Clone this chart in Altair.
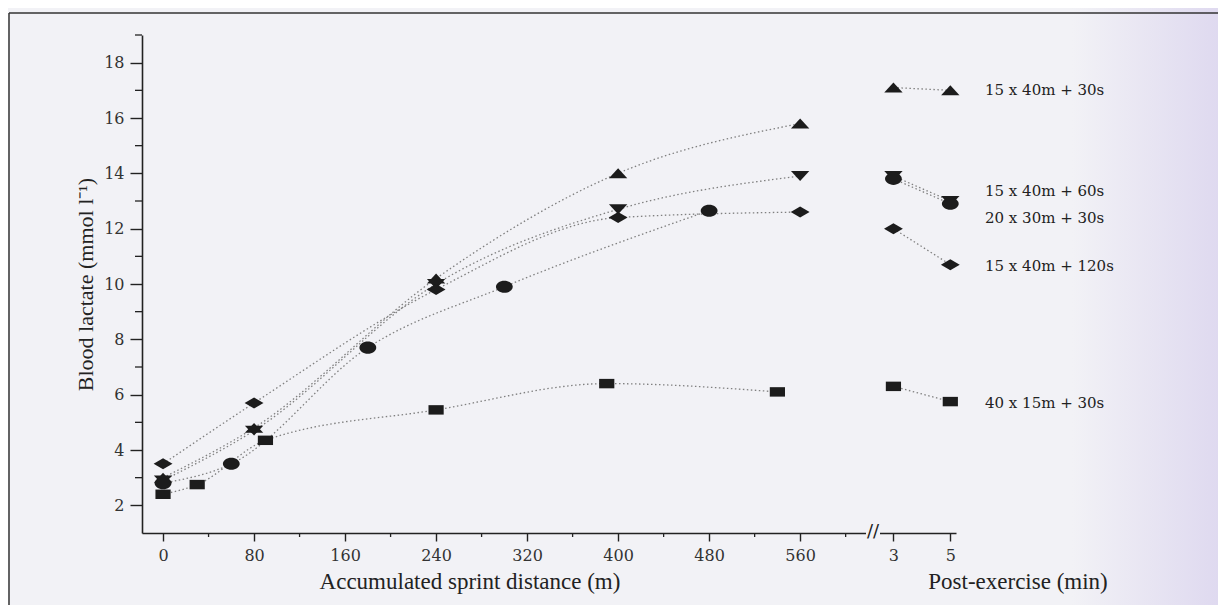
import altair as alt
import pandas as pd

# ---------------- data ----------------
series_names = ["15 x 40m + 30s", "15 x 40m + 60s", "20 x 30m + 30s",
                "15 x 40m + 120s", "40 x 15m + 30s"]

# accumulated sprint distance (m) and blood lactate (mmol/l) during exercise
dist_30s = [0, 80, 240, 400, 560]
lac_30s = [3.0, 4.8, 10.2, 14.0, 15.8]
dist_60s = [0, 80, 240, 400, 560]
lac_60s = [2.9, 4.7, 10.0, 12.7, 13.9]
dist_20x30 = [0, 60, 180, 300, 480]
lac_20x30 = [2.8, 3.5, 7.7, 9.9, 12.65]
dist_120s = [0, 80, 240, 400, 560]
lac_120s = [3.5, 5.7, 9.8, 12.4, 12.6]
dist_40x15 = [0, 30, 90, 240, 390, 540]
lac_40x15 = [2.4, 2.75, 4.35, 5.45, 6.4, 6.1]

# post-exercise (minutes) values
post_minutes = [3, 5]
post_30s = [17.1, 17.0]
post_60s = [13.9, 13.0]
post_20x30 = [13.8, 12.9]
post_120s = [12.0, 10.7]
post_40x15 = [6.3, 5.75]

label_lactate = [17.0, 13.35, 12.4, 10.65, 5.7]

y_major = [2, 4, 6, 8, 10, 12, 14, 16, 18]
y_minor = [3, 5, 7, 9, 11, 13, 15, 17, 19]
x_major = [0, 80, 160, 240, 320, 400, 480, 560]
x_minor = [40, 120, 200, 280, 360, 440, 520, 600]

# post-exercise minutes are placed after the axis break
BREAK_ORIGIN = 567
MIN_STEP = 25


def post_pos(m):
    return BREAK_ORIGIN + MIN_STEP * m


ex_sets = [(dist_30s, lac_30s), (dist_60s, lac_60s), (dist_20x30, lac_20x30),
           (dist_120s, lac_120s), (dist_40x15, lac_40x15)]
post_sets = [post_30s, post_60s, post_20x30, post_120s, post_40x15]

rows = []
for name, (dx, ly), py in zip(series_names, ex_sets, post_sets):
    for d, v in zip(dx, ly):
        rows.append({"series": name, "seg": name + "|ex", "x": d, "y": v})
    for m, v in zip(post_minutes, py):
        rows.append({"series": name, "seg": name + "|post", "x": post_pos(m), "y": v})
df = pd.DataFrame(rows)

labels_df = pd.DataFrame({"label": series_names, "y": label_lactate})
ymin_df = pd.DataFrame({"y": y_minor})
xmin_df = pd.DataFrame({"x": x_minor})

post_ticks = [post_pos(m) for m in post_minutes]
label_expr = " : ".join(
    [f"datum.value == {p} ? '{m}'" for p, m in zip(post_ticks, post_minutes)]
) + " : datum.label"

# ---------------- styling ----------------
BG = "#f2f2f6"
INK = "#1c1c1c"
W, H = 814, 498

x_scale = alt.Scale(domain=[-18.5, 697], nice=False, zero=False)
y_scale = alt.Scale(domain=[1, 19], nice=False, zero=False)

x_axis = alt.Axis(values=x_major + post_ticks, labelExpr=label_expr, title=None,
                  grid=False, tickSize=8, labelPadding=6, domainColor="#222",
                  tickColor="#222", domainWidth=1.6, tickWidth=1.4,
                  labelFont="DejaVu Serif", labelFontSize=16, labelColor="#333")
y_axis = alt.Axis(values=y_major, title="Blood lactate (mmol l⁻¹)", grid=False,
                  tickSize=12, labelPadding=6, domainColor="#222", tickColor="#222",
                  domainWidth=1.6, tickWidth=1.4,
                  labelFont="DejaVu Serif", labelFontSize=16, labelColor="#333",
                  titleFont="Liberation Serif", titleFontSize=22,
                  titleFontWeight="normal", titleColor="#222", titlePadding=6)

X = alt.X("x:Q", scale=x_scale, axis=x_axis)
Y = alt.Y("y:Q", scale=y_scale, axis=y_axis)

shape_paths = [
    "M0,-0.95L1.75,0.95L-1.75,0.95Z",
    "M-1.75,-0.95L1.75,-0.95L0,0.95Z",
    "M-1.6,0A1.6,1.15,0,1,0,1.6,0A1.6,1.15,0,1,0,-1.6,0Z",
    "M0,-1.05L1.8,0L0,1.05L-1.8,0Z",
    "M-1.45,-0.9L1.45,-0.9L1.45,0.9L-1.45,0.9Z",
]

# right-side lavender tint of the scan
tint = alt.Chart(pd.DataFrame({"k": [0]})).mark_rect(
    color=alt.Gradient(gradient="linear", x1=0, x2=1, y1=0, y2=0,
                       stops=[alt.GradientStop(color=BG, offset=0),
                              alt.GradientStop(color="#ddd7ef", offset=1)])
).encode(x=alt.value(930), x2=alt.value(1090), y=alt.value(-35), y2=alt.value(575))

frame_top = alt.Chart(pd.DataFrame({"k": [0]})).mark_rule(color="#333", strokeWidth=1.5).encode(
    x=alt.value(-133), x2=alt.value(1090), y=alt.value(-22))
frame_left = alt.Chart(pd.DataFrame({"k": [0]})).mark_rule(color="#333", strokeWidth=1.5).encode(
    x=alt.value(-133), y=alt.value(-22), y2=alt.value(575))

lines = alt.Chart(df).mark_line(
    interpolate="monotone", strokeDash=[1.5, 2.5], color="#808080", strokeWidth=1.3
).encode(x=X, y=Y, detail="seg:N")

points = alt.Chart(df).mark_point(filled=True, opacity=1, color=INK, size=110, strokeWidth=0).encode(
    x=X, y=Y,
    shape=alt.Shape("series:N", scale=alt.Scale(domain=series_names, range=shape_paths), legend=None),
)

y_minor_ticks = alt.Chart(ymin_df).mark_rule(color="#222", strokeWidth=1.3).encode(
    y=Y, x=alt.value(-7), x2=alt.value(0))
x_minor_ticks = alt.Chart(xmin_df).mark_rule(color="#222", strokeWidth=1.3).encode(
    x=X, y=alt.value(H), y2=alt.value(H + 4))

break_gap = alt.Chart(pd.DataFrame({"k": [0]})).mark_rect(color=BG).encode(
    x=alt.value(724), x2=alt.value(738), y=alt.value(H - 3), y2=alt.value(H + 3))
break_mark = alt.Chart(pd.DataFrame({"t": ["//"]})).mark_text(
    font="DejaVu Sans", fontSize=18, color="#222", align="center", baseline="middle"
).encode(text="t:N", x=alt.value(731), y=alt.value(H - 1))

series_labels = alt.Chart(labels_df).mark_text(
    font="DejaVu Serif", fontSize=15, color="#222", align="left", baseline="middle"
).encode(text="label:N", x=alt.value(843), y=Y)

titles_df = pd.DataFrame({"t": ["Accumulated sprint distance (m)", "Post-exercise (min)"],
                          "px": [328, 876]})
x_titles = alt.Chart(titles_df).mark_text(
    font="Liberation Serif", fontSize=23, color="#222", align="center", baseline="middle"
).encode(text="t:N", x=alt.X("px:Q", scale=None), y=alt.value(547))

chart = alt.layer(
    tint, frame_top, frame_left, lines, y_minor_ticks, x_minor_ticks,
    break_gap, break_mark, points, series_labels, x_titles
).properties(
    width=W, height=H,
    autosize=alt.AutoSizeParams(type="none"),
    padding={"left": 134, "top": 27, "right": 262, "bottom": 72},
    background=BG,
).configure_view(stroke=None)

chart.save("out.html", embed_options={"renderer": "svg", "actions": False})
